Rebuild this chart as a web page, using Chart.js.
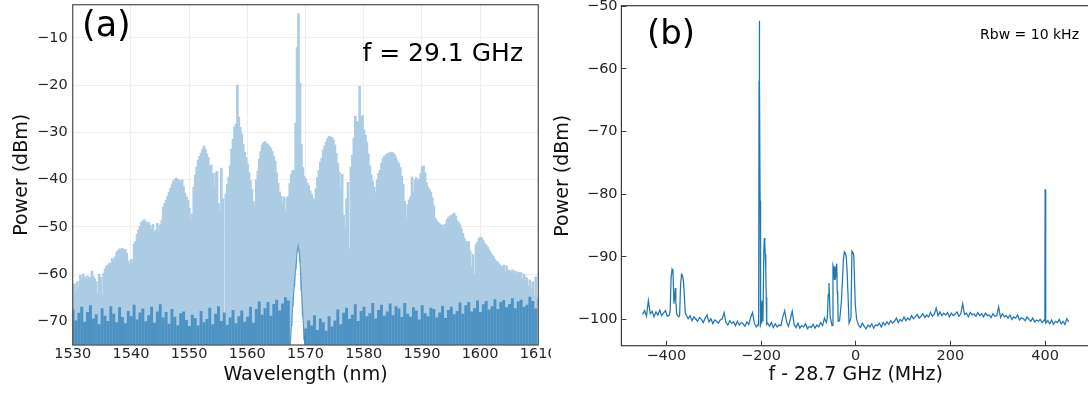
<!DOCTYPE html>
<html>
<head>
<meta charset="utf-8">
<script src="https://cdn.jsdelivr.net/npm/chart.js@4.4.1/dist/chart.umd.min.js"></script>
<style>
    body { margin: 0; background: #fff; }
    #page { position: relative; width: 1088px; height: 394px; overflow: hidden; font-family: "DejaVu Sans", sans-serif; }
    #chartA { position: absolute; left: 0; top: 0; }
    #chartB { position: absolute; left: 540px; top: 0; }
    .note { position: absolute; line-height: 1; white-space: nowrap; color: #000; }
</style>
</head>
<body>
<div id="page">
    <canvas id="chartA" width="551" height="394"></canvas>
    <canvas id="chartB" width="560" height="394"></canvas>
    <div class="note" style="left:82px; top:7px; font-size:35px;">(a)</div>
    <div class="note" style="right:565px; top:40px; font-size:25px;">f = 29.1 GHz</div>
    <div class="note" style="left:647px; top:15px; font-size:34px;">(b)</div>
    <div class="note" style="right:9px; top:27px; font-size:14px;">Rbw = 10 kHz</div>
</div>
<script>
// ---- (a) optical spectrum: one comb line every 0.25 nm from 1530.05 nm ----
var combStart = 1530.05;
var combStep = 0.25;
var combPeak = [
    -63.5, -62.0, -63.8, -61.5, -62.8, -60.2, -60.8, -59.9,
    -60.5, -61.0, -60.3, -60.8, -60.6, -59.3, -60.4, -60.9,
    -61.5, -64.0, -60.0, -60.6, -64.5, -59.8, -58.8, -58.2,
    -58.0, -57.6, -57.8, -56.6, -57.0, -56.3, -55.3, -54.9,
    -54.6, -54.8, -54.5, -55.0, -54.7, -55.5, -57.2, -57.8,
    -56.8, -57.5, -53.5, -53.0, -51.5, -50.6, -49.8, -49.0,
    -48.7, -48.4, -48.8, -49.4, -49.0, -49.6, -50.4, -49.4,
    -51.0, -50.6, -49.2, -50.8, -49.5, -48.6, -45.8, -45.0,
    -44.3, -43.5, -42.6, -41.8, -41.0, -40.2, -39.8, -39.6,
    -39.9, -40.1, -40.5, -40.0, -41.4, -42.8, -43.6, -44.4,
    -46.0, -48.5, -47.2, -41.5, -39.0, -37.3, -35.8, -35.0,
    -34.3, -33.6, -32.8, -33.5, -34.5, -35.3, -37.2, -36.8,
    -38.6, -41.5, -38.5, -38.2, -45.0, -46.5, -37.5, -44.0,
    -69.0, -43.0, -41.0, -39.4, -37.0, -33.5, -31.4, -28.8,
    -28.2, -19.9, -26.7, -28.9, -30.3, -32.4, -34.1, -35.2,
    -36.6, -38.4, -40.2, -42.0, -44.6, -45.6, -40.0, -38.2,
    -35.6, -34.0, -32.6, -32.1, -31.9, -32.3, -32.5, -32.9,
    -33.3, -34.0, -35.0, -36.0, -38.5, -40.6, -42.5, -43.5,
    -44.8, -43.6, -46.5, -43.8, -43.5, -40.8, -38.8, -38.0,
    -38.2, -28.0, -12.0, -4.8, -19.5, -32.5, -37.4, -39.3,
    -39.8, -40.6, -41.2, -42.3, -43.0, -43.8, -44.3, -41.9,
    -39.5, -38.0, -36.3, -35.4, -33.6, -32.8, -32.0, -31.2,
    -30.8, -30.9, -31.0, -31.5, -32.6, -34.4, -36.5, -38.4,
    -42.0, -38.8, -47.5, -50.5, -44.0, -40.5, -54.6, -37.3,
    -34.8, -31.2, -26.5, -27.6, -27.9, -20.2, -26.8, -26.4,
    -29.4, -30.5, -32.0, -34.5, -37.0, -38.9, -40.2, -41.5,
    -42.8, -40.0, -38.6, -38.0, -36.5, -35.5, -35.0, -34.7,
    -34.5, -34.3, -34.2, -34.1, -34.3, -34.6, -35.3, -36.0,
    -36.5, -37.4, -39.2, -41.0, -44.5, -48.0, -45.2, -44.2,
    -43.6, -39.4, -42.5, -40.0, -39.5, -40.2, -39.8, -38.6,
    -37.2, -37.0, -38.5, -40.6, -41.5, -42.0, -42.6, -43.8,
    -45.5, -48.0, -48.6, -49.0, -49.3, -49.6, -49.5, -50.2,
    -49.4, -48.4, -48.0, -47.6, -47.6, -47.3, -47.0, -47.6,
    -48.6, -49.0, -49.5, -50.3, -51.3, -52.3, -53.0, -53.4,
    -53.0, -55.0, -58.5, -55.8, -60.0, -53.7, -53.2, -52.4,
    -52.1, -52.3, -52.8, -53.4, -53.8, -54.2, -54.8, -55.4,
    -55.8, -56.2, -56.8, -57.2, -57.4, -57.8, -58.2, -58.5,
    -58.0, -59.5, -58.2, -59.0, -59.2, -59.6, -59.0, -59.8,
    -59.3, -60.2, -59.5, -59.7, -59.6, -61.0, -59.9, -60.6,
    -60.8, -62.5, -61.2, -63.0, -61.5, -64.5, -60.5, -65.0
];
// comb lines 150..159 sit on the pump pedestal instead of the noise floor
var pumpFirst = 150;
var pumpBase = [-71, -66.8, -62.5, -59, -55.5, -54, -57.5, -63.5, -69, -74];
var pedestalWl = [1567.35, 1567.6, 1567.85, 1568.1, 1568.35, 1568.6, 1568.75, 1568.85, 1569.0, 1569.15, 1569.35, 1569.55, 1569.75, 1569.9];
var pedestalDb = [-75, -71, -66, -62, -58.5, -55, -54, -54, -56, -59.5, -64.5, -69, -73, -75];
// OSA noise floor, every 0.5 nm
var noiseStep = 0.5;
var noiseTop = [
    -67.5, -69.8, -68.2, -66.9, -70.1, -68.0, -66.6, -69.4,
    -68.5, -70.6, -67.2, -68.8, -69.9, -66.8, -68.4, -70.2,
    -67.0, -69.1, -70.4, -67.8, -68.9, -66.5, -69.6, -68.1,
    -67.3, -70.0, -68.7, -66.9, -70.3, -67.9, -66.4, -69.2,
    -68.0, -70.5, -67.4, -69.0, -70.8, -68.3, -67.9, -69.7,
    -71.0, -68.6, -69.3, -70.9, -67.8, -70.2, -69.5, -67.1,
    -70.6, -68.4, -66.8, -69.9, -68.1, -70.7, -69.2, -67.6,
    -70.4, -68.9, -67.7, -70.1, -69.0, -66.9, -70.3, -67.4,
    -65.8, -68.6, -67.2, -65.9, -68.8, -66.3, -65.4, -67.7,
    -66.2, -64.9, -65.6, -75, -75, -75, -75, -75,
    -71.5, -69.8, -70.9, -68.7, -71.8, -69.4, -70.2, -72.0,
    -68.9, -71.1, -69.8, -67.5, -70.6, -68.2, -67.1, -69.5,
    -68.6, -66.4, -69.9, -67.8, -66.9, -68.9, -68.3, -66.1,
    -69.4, -67.6, -66.5, -68.8, -67.9, -66.2, -68.7, -66.8,
    -67.3, -69.1, -66.1, -68.4, -69.0, -67.0, -67.7, -69.6,
    -66.6, -68.3, -68.9, -67.1, -67.4, -69.2, -68.1, -66.7,
    -69.3, -67.6, -66.9, -68.5, -67.8, -66.0, -68.4, -66.6,
    -65.9, -67.9, -67.2, -65.6, -68.0, -66.4, -65.7, -67.5,
    -66.8, -65.3, -67.4, -65.9, -65.5, -67.0, -66.3, -65.1,
    -67.2, -65.8, -65.4, -66.9, -66.5, -64.8, -65.7, -67.3
];
var wlTicks = [1530, 1540, 1550, 1560, 1570, 1580, 1590, 1600, 1610];
var powerTicksA = [-70, -60, -50, -40, -30, -20, -10];

// ---- (b) RF spectrum: trace on a 4 MHz grid from -450 MHz, plus extra points on narrow peaks ----
var rfStart = -450;
var rfStep = 4;
var rfPower = [
    -99.2, -98.6, -99.5, -97.0, -99.1, -98.7, -99.6, -98.8, -99.3, -98.5,
    -99.4, -99.0, -98.6, -99.5, -99.4, -93.4, -92.4, -96.0, -99.2, -99.6,
    -94.5, -93.0, -96.2, -99.3, -99.9, -99.4, -100.2, -99.6, -99.9, -100.3,
    -99.7, -100.0, -100.5, -99.8, -99.3, -100.4, -99.9, -100.7, -100.1, -100.3,
    -100.6, -100.1, -99.9, -98.9, -100.5, -100.9, -100.2, -100.6, -100.4, -101.0,
    -100.3, -100.9, -100.5, -100.7, -101.1, -100.4, -100.8, -99.7, -98.9, -100.6,
    -101.2, -100.8, -81.0, -97.6, -89.0, -92.0, -100.6, -101.1, -100.5, -101.3,
    -100.7, -101.2, -100.9, -101.0, -99.6, -98.6, -100.4, -101.1, -99.9, -98.7,
    -100.8, -101.3, -100.6, -101.4, -101.0, -101.2, -100.7, -101.5, -101.1, -101.3,
    -100.8, -101.4, -100.9, -101.2, -100.5, -101.0, -99.8, -100.5, -96.0, -99.5,
    -101.0, -92.0, -92.8, -96.5, -100.2, -97.0, -90.5, -89.4, -92.5, -100.6,
    -99.8, -89.3, -95.0, -100.0, -100.9, -101.3, -100.6, -101.1, -101.5, -100.9,
    -101.2, -100.7, -101.4, -100.9, -101.0, -100.6, -101.2, -100.5, -100.9, -100.4,
    -100.8, -100.2, -100.6, -100.3, -99.8, -100.5, -100.0, -100.3, -99.6, -100.2,
    -99.8, -100.1, -99.4, -99.9, -99.6, -99.2, -99.8, -99.5, -99.1, -99.7,
    -99.3, -99.6, -98.9, -99.5, -99.2, -98.2, -99.4, -98.8, -99.4, -99.0,
    -99.3, -98.9, -99.6, -99.0, -99.4, -99.2, -98.8, -99.5, -99.1, -97.5,
    -99.2, -99.0, -99.6, -98.9, -99.3, -99.1, -99.5, -98.9, -99.4, -99.1,
    -99.6, -99.0, -99.4, -99.3, -99.7, -99.1, -99.5, -99.4, -98.0, -99.7,
    -99.1, -99.6, -99.4, -99.8, -99.3, -100.0, -99.6, -99.8, -99.3, -100.1,
    -99.7, -99.9, -100.2, -99.6, -100.0, -100.3, -99.8, -100.4, -100.1, -100.3,
    -100.0, -100.5, -100.1, -100.6, -100.2, -100.7, -100.1, -100.8, -100.3, -100.5,
    -100.0, -100.7, -100.3, -100.8, -99.9, -100.4
];
var rfPeakFreq = [
    -392, -388, -384, -381, -380, -372, -368, -364, -360,
    -205, -204.2, -203.6, -203, -201, -200, -199, -197.5, -196, -193, -192, -191, -189, -188,
    -60, -56.5, -55, -48, -45, -44, -40, -39, -37, -24, -20, -8, -4, -1,
    399.6, 400.2, 400.8
];
var rfPeakPower = [
    -98.6, -92.0, -97.5, -95.0, -97.2, -99.4, -92.8, -93.8, -99.0,
    -100.9, -62.0, -52.3, -62.0, -100.8, -100.5, -99.2, -97.0, -100.3, -87.0, -88.3, -89.6, -96.5, -100.8,
    -99.8, -94.2, -97.2, -91.4, -93.6, -91.5, -91.1, -95.5, -100.3, -89.2, -90.0, -89.1, -89.8, -97.5,
    -100.2, -79.2, -100.4
];
var freqTicks = [-400, -200, 0, 200, 400];
var powerTicksB = [-100, -90, -80, -70, -60, -50];

Chart.defaults.font.family = "'DejaVu Sans', sans-serif";

function tickLabel(v) {
    return v < 0 ? '\u2212' + Math.abs(v) : String(v);
}

function fixedTicks(list) {
    return function (scale) {
        scale.ticks = list.map(function (v) { return { value: v }; });
    };
}

var framePlugin = {
    id: 'frame',
    afterDatasetsDraw: function (chart, args, opts) {
        var a = chart.chartArea;
        var ctx = chart.ctx;
        ctx.save();
        ctx.strokeStyle = opts.color;
        ctx.lineWidth = opts.width;
        ctx.strokeRect(a.left, a.top, a.right - a.left, a.bottom - a.top);
        ctx.restore();
    }
};

var tickFont = { size: 14.5 };
var titleFont = { size: 19 };

// ---- panel (a) ----
var combBars = combPeak.map(function (p, i) {
    var k = i - pumpFirst;
    var low = (k >= 0 && k < pumpBase.length) ? pumpBase[k] : -75;
    return { x: combStart + combStep * i, y: [low, p] };
});
var noiseBars = noiseTop.map(function (p, i) {
    return { x: combStart + noiseStep * i, y: [-75, p] };
});
var pedestal = pedestalWl.map(function (w, i) {
    return { x: w, y: pedestalDb[i] };
});

// ungrouped bars are sized from the 0.25 nm comb spacing times barPercentage;
// comb bars overlap a little so antialiased edges do not leave pale stripes
new Chart(document.getElementById('chartA'), {
    type: 'bar',
    data: {
        datasets: [
            {
                type: 'line',
                data: pedestal,
                borderColor: 'rgba(31,119,180,0.6)',
                borderWidth: 1.2,
                pointRadius: 0,
                order: 0
            },
            {
                data: noiseBars,
                backgroundColor: 'rgba(31,119,180,0.68)',
                categoryPercentage: 1,
                barPercentage: 2,
                inflateAmount: 0,
                borderWidth: 0,
                grouped: false,
                order: 1
            },
            {
                data: combBars,
                backgroundColor: 'rgb(172,204,228)',
                categoryPercentage: 1,
                barPercentage: 1.8,
                inflateAmount: 0,
                borderWidth: 0,
                grouped: false,
                order: 2
            }
        ]
    },
    options: {
        responsive: false,
        animation: false,
        events: [],
        layout: { padding: { top: 4.7, right: 12.7, bottom: 0, left: 0 } },
        plugins: {
            legend: { display: false },
            tooltip: { enabled: false },
            frame: { color: '#5a5a5a', width: 1.3 }
        },
        scales: {
            x: {
                type: 'linear',
                min: 1530,
                max: 1610,
                offset: false,
                afterBuildTicks: fixedTicks(wlTicks),
                afterFit: function (s) { s.height = 49; s.paddingLeft = 0; s.paddingRight = 0; },
                grid: { color: '#eeeeee', drawTicks: false, offset: false },
                border: { display: false },
                ticks: { padding: 1, color: '#262626', font: tickFont, maxRotation: 0, autoSkip: false, callback: tickLabel },
                title: { display: true, text: 'Wavelength (nm)', color: '#111', font: titleFont, padding: { top: 0, bottom: 7.5 } }
            },
            y: {
                min: -75,
                max: -3,
                beginAtZero: false,
                afterBuildTicks: fixedTicks(powerTicksA),
                afterFit: function (s) { s.width = 72.7; s.paddingTop = 0; s.paddingBottom = 0; },
                grid: { color: '#eeeeee', drawTicks: false },
                border: { display: false },
                ticks: { padding: 5, color: '#262626', font: tickFont, callback: tickLabel },
                title: { display: true, text: 'Power (dBm)', color: '#111', font: titleFont, padding: { top: 10.6, bottom: 0 } }
            }
        }
    },
    plugins: [framePlugin]
});

// ---- panel (b) ----
var rfPoints = rfPower.map(function (p, i) {
    return { x: rfStart + rfStep * i, y: p };
});
rfPeakFreq.forEach(function (f, i) {
    rfPoints.push({ x: f, y: rfPeakPower[i] });
});
rfPoints.sort(function (a, b) { return a.x - b.x; });

new Chart(document.getElementById('chartB'), {
    type: 'line',
    data: {
        datasets: [{
            data: rfPoints,
            borderColor: '#1f77b4',
            borderWidth: 1.25,
            pointRadius: 0,
            tension: 0
        }]
    },
    options: {
        responsive: false,
        animation: false,
        events: [],
        layout: { padding: { top: 5.7, right: 10, bottom: 0, left: 0 } },
        plugins: {
            legend: { display: false },
            tooltip: { enabled: false },
            frame: { color: '#3c3c3c', width: 1.2 }
        },
        scales: {
            x: {
                type: 'linear',
                min: -495,
                max: 495,
                afterBuildTicks: fixedTicks(freqTicks),
                afterFit: function (s) { s.height = 48.3; s.paddingLeft = 0; s.paddingRight = 0; },
                grid: { drawOnChartArea: false, tickLength: -5, color: '#3c3c3c' },
                border: { display: false },
                ticks: { padding: 7.3, color: '#262626', font: tickFont, maxRotation: 0, autoSkip: false, callback: tickLabel },
                title: { display: true, text: 'f - 28.7 GHz (MHz)', color: '#111', font: titleFont, padding: { top: 0, bottom: 7.5 } }
            },
            y: {
                min: -104.2,
                max: -49.9,
                afterBuildTicks: fixedTicks(powerTicksB),
                afterFit: function (s) { s.width = 81.4; s.paddingTop = 0; s.paddingBottom = 0; },
                grid: { drawOnChartArea: false, tickLength: -5, color: '#3c3c3c' },
                border: { display: false },
                ticks: { padding: 8.8, color: '#262626', font: tickFont, callback: tickLabel },
                title: { display: true, text: 'Power (dBm)', color: '#111', font: titleFont, padding: { top: 11.6, bottom: 0 } }
            }
        }
    },
    plugins: [framePlugin]
});
</script>
</body>
</html>
